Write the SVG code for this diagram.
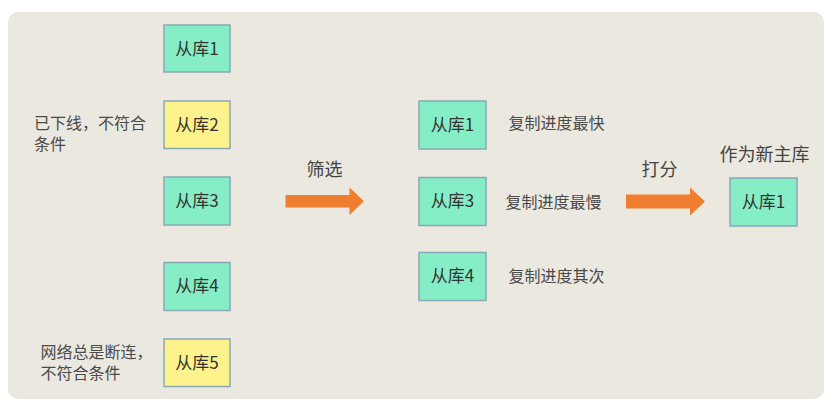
<svg xmlns="http://www.w3.org/2000/svg" width="839" height="406" viewBox="0 0 839 406">
  <style>
    .g { fill: #85EEC6; stroke: #8AA8B6; stroke-width: 1.5; }
    .y { fill: #FEF28C; stroke: #8AA8B6; stroke-width: 1.5; }
    .bt { font-family: "Noto Sans CJK SC", "Noto Sans", sans-serif; font-size: 17px; fill: #333333; text-anchor: middle; }
    .lb { font-family: "Noto Sans CJK SC", "Noto Sans", sans-serif; font-size: 16px; fill: #4A4A4A; }
    .hd { font-family: "Noto Sans CJK SC", "Noto Sans", sans-serif; font-size: 18px; fill: #444444; }
    .arr { fill: #EF7E31; }
  </style>
  <rect x="0" y="0" width="839" height="406" fill="#FFFFFF"/>
  <rect x="8" y="12" width="816" height="387" rx="10" ry="10" fill="#EBE8DF"/>

  <g id="left-s1"><rect class="g" x="164" y="25" width="66" height="47"/><text class="bt" x="197" y="54.5">从库1</text></g>
  <g id="left-s2"><rect class="y" x="164" y="101" width="66" height="47.5"/><text class="bt" x="197" y="130.5">从库2</text></g>
  <g id="left-s3"><rect class="g" x="164" y="177" width="66" height="48"/><text class="bt" x="197" y="206.5">从库3</text></g>
  <g id="left-s4"><rect class="g" x="164" y="262.5" width="66" height="48"/><text class="bt" x="197" y="292">从库4</text></g>
  <g id="left-s5"><rect class="y" x="164" y="339" width="66" height="47.5"/><text class="bt" x="197" y="368.5">从库5</text></g>

  <g id="note-s2"><text class="lb" x="34" y="129"><tspan x="34" y="129">已下线，不符合</tspan><tspan x="34" y="150">条件</tspan></text></g>
  <g id="note-s5"><text class="lb" x="40.5" y="357.5"><tspan x="40.5" y="357.5">网络总是断连，</tspan><tspan x="40.5" y="379">不符合条件</tspan></text></g>

  <g id="mid-s1"><rect class="g" x="419" y="101" width="67" height="48"/><text class="bt" x="452.5" y="130.5">从库1</text></g>
  <g id="mid-s3"><rect class="g" x="419" y="177.5" width="67" height="48"/><text class="bt" x="452.5" y="207">从库3</text></g>
  <g id="mid-s4"><rect class="g" x="419" y="252.5" width="67" height="48"/><text class="bt" x="452.5" y="282">从库4</text></g>

  <g id="mid-notes">
    <text class="lb" x="508.5" y="129">复制进度最快</text>
    <text class="lb" x="505.5" y="208">复制进度最慢</text>
    <text class="lb" x="508.5" y="282">复制进度其次</text>
  </g>

  <g id="new-master"><rect class="g" x="730" y="178" width="67" height="48"/><text class="bt" x="763.5" y="207.5">从库1</text></g>
  <text class="hd" x="719.5" y="160.5">作为新主库</text>

  <g id="connectors">
    <polygon class="arr" points="285.5,195 349.5,195 349.5,187.5 364,201.2 349.5,215 349.5,207.5 285.5,207.5"/>
    <text class="hd" x="306.5" y="175.5">筛选</text>
    <polygon class="arr" points="626,194.5 690,194.5 690,187.5 705,201.5 690,215.5 690,208.5 626,208.5"/>
    <text class="hd" x="641.5" y="176">打分</text>
  </g>
</svg>
